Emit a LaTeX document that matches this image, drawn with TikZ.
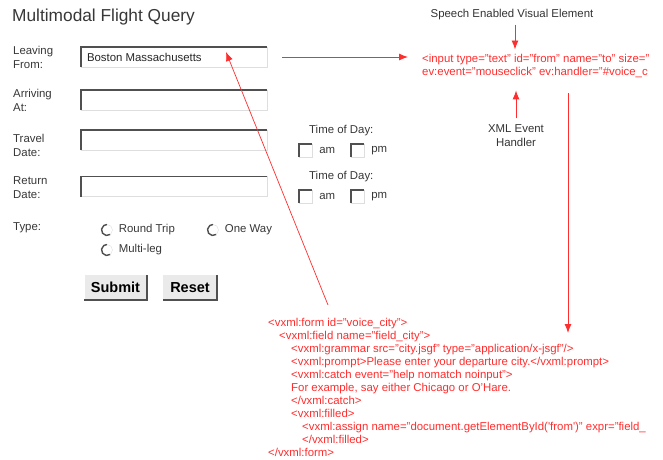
\documentclass[tikz,border=0pt]{standalone}
\usepackage{fontspec}
\setmainfont{Liberation Sans}
\usetikzlibrary{arrows.meta, positioning}
\definecolor{lRed}   {RGB}{255,45,45}
\definecolor{txGray} {RGB}{55,55,55}
\definecolor{bdDark} {RGB}{80,80,80}
\definecolor{bdLight}{RGB}{222,222,222}
\definecolor{btnFill}{RGB}{234,234,234}

\begin{document}
\begin{tikzpicture}[x=1pt, y=-1pt,
    lbl/.style={anchor=west, align=left, inner sep=0pt, text=txGray, font=\fontsize{11.4}{14}\selectfont},
    field/.style={draw=bdLight, fill=white, minimum width=186pt, minimum height=20pt, inner sep=0pt},
    chk/.style={draw=bdLight, fill=white, minimum size=13pt, inner sep=0pt},
    edge/.style={bdDark, line width=1.6pt},
    btn/.style={fill=btnFill, minimum height=25pt, inner sep=0pt, font=\fontsize{14.5}{16}\bfseries\selectfont},
    code/.style={align=left, inner sep=0pt, text=lRed, font=\fontsize{11.4}{13}\selectfont},
    ARR/.style={-{Latex[length=9pt,width=7pt]}, lRed, line width=0.9pt}]
    \useasboundingbox (0,0) rectangle (663,459);

    % form on the left
    \node[anchor=west, inner sep=0pt, text=txGray, font=\fontsize{17.3}{19}\selectfont] (title) at (12,17) {Multimodal Flight Query};
    \foreach \nm/\yy/\ly/\ta/\tb in {from/57/57/Leaving/From:, arr/100/100/Arriving/At:, trav/140/145/Travel/Date:, ret/186.5/188/Return/Date:} {
        \node[lbl] (\nm Lbl) at (13,\ly) {\ta\\\tb};
        \node[field] (\nm) at (174,\yy) {};
        \draw[edge] (\nm.south west) |- (\nm.north east);
    }
    \node[lbl, text=black!85] (boston) at ([xshift=6pt]from.west) {Boston Massachusetts};

    % time of day boxes
    \foreach \rw/\yy in {1/131, 2/177} {
        \node[lbl] (tod\rw) at (309,\yy) {Time of Day:};
        \node[chk] (am\rw) at (305.5,\yy+19.5) {};
        \node[chk] (pm\rw) at (357.5,\yy+19.5) {};
        \draw[edge, line width=1.4pt] (am\rw.south west) |- (am\rw.north east);
        \draw[edge, line width=1.4pt] (pm\rw.south west) |- (pm\rw.north east);
        \node[lbl, right=7pt of am\rw] {am};
        \node[lbl, right=7pt of pm\rw] {pm};
    }

    % trip type
    \node[lbl] (typeLbl) at (13,228) {Type:};
    \foreach \nm/\xx/\yy/\tx in {round/107/230/Round Trip, oneway/213/230/One Way, multi/107/250/Multi-leg} {
        \node[circle, draw=bdLight, fill=white, minimum size=11pt, inner sep=0pt] (\nm) at (\xx,\yy) {};
        \draw[bdDark, line width=1.4pt] ([shift={(-55:5.5pt)}]\nm.center) arc[start angle=-55, end angle=-270, radius=5.5pt];
        \node[lbl, right=6pt of \nm] {\tx};
    }

    % buttons
    \node[btn, minimum width=62pt] (submit) at (115.5,287.5) {Submit};
    \node[btn, minimum width=54pt] (reset) at (190,287.5) {Reset};
    \foreach \nm in {submit, reset} {
        \draw[white, line width=1.2pt] (\nm.south west) |- (\nm.north east);
        \draw[edge, line width=1.8pt] (\nm.south west) -| (\nm.north east);
    }

    % markup on the right
    \node[code, anchor=north west] (inputCode) at (422,54.5) {<input type="text" id="from" name="to" size="\\ev:event="mouseclick" ev:handler="\#voice\_c};
    \node[code, anchor=north west] (vxml) at (268,318) {<vxml:form id="voice\_city">\\
        \hspace*{11pt}<vxml:field name="field\_city">\\
        \hspace*{23pt}<vxml:grammar src="city.jsgf" type="application/x-jsgf"/>\\
        \hspace*{23pt}<vxml:prompt>Please enter your departure city.</vxml:prompt>\\
        \hspace*{23pt}<vxml:catch event="help nomatch noinput">\\
        \hspace*{23pt}For example, say either Chicago or O'Hare.\\
        \hspace*{23pt}</vxml:catch>\\
        \hspace*{23pt}<vxml:filled>\\
        \hspace*{34pt}<vxml:assign name="document.getElementById(\textquotesingle from\textquotesingle)" expr="field\_\\
        \hspace*{34pt}</vxml:filled>\\
        </vxml:form>};

    \node[lbl, anchor=center, align=center, text=black!80] (speech) at (512,15) {Speech Enabled Visual Element};
    \node[lbl, anchor=center, align=center, text=black!80] (handler) at (516,135.5) {XML Event\\Handler};

    \coordinate (tap) at (568,93);
    \coordinate (drop) at (568,333);
    \coordinate (formTip) at (328,305);
    \coordinate (pick) at (226,52);

    \draw[ARR, shorten <=15pt, shorten >=14pt] (from.east) -- (from.east -| inputCode.west);
    \draw[ARR, shorten <=4pt, shorten >=5pt] (speech.south -| 515,0) -- (515,0 |- inputCode.north);
    \draw[ARR, shorten <=6pt, shorten >=12pt] (handler.north) -- (handler |- inputCode.south);
    \draw[ARR] (tap) -- (drop);
    \draw[ARR, line width=0.7pt] (formTip) -- (pick);
\end{tikzpicture}
\end{document}
